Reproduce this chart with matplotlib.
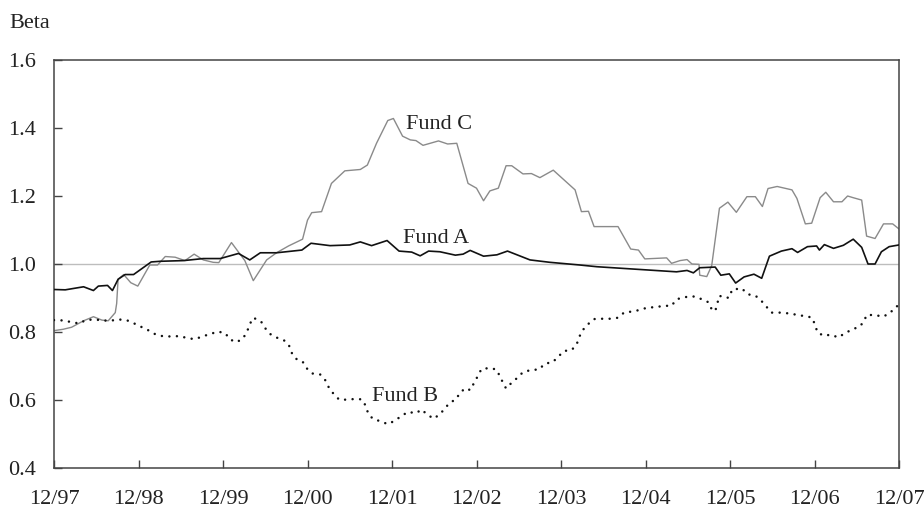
import matplotlib
matplotlib.use("Agg")
import matplotlib.pyplot as plt

plt.rcParams["font.family"] = ["Liberation Serif", "DejaVu Serif"]
plt.rcParams["font.size"] = 16

# months after 12/97, beta
tick_labels = ["12/97", "12/98", "12/99", "12/00", "12/01", "12/02",
               "12/03", "12/04", "12/05", "12/06", "12/07"]

fund_a_month = [0, 1.6, 4.2, 5.6, 6.3, 7.6, 8.3, 9.1, 10.1, 11.3, 13.8, 15.1,
                18.4, 21.2, 23.6, 26.2, 27.8, 29.3, 31.6, 35.2, 36.5, 39.2,
                42.0, 43.5, 45.1, 47.3, 49.0, 50.8, 52.0, 53.2, 54.8, 57.0,
                58.1, 59.1, 61.0, 62.9, 64.4, 67.6, 70.4, 74.7, 77.1, 88.4,
                89.9, 90.8, 91.7, 93.9, 94.7, 95.9, 96.8, 98.0, 99.4, 100.5,
                101.6, 103.3, 104.8, 105.6, 107.0, 108.3, 108.7, 109.4, 110.7,
                112.1, 113.5, 114.7, 115.6, 116.6, 117.5, 118.6, 120]
fund_a_beta = [0.925, 0.924, 0.933, 0.922, 0.935, 0.937, 0.922, 0.955, 0.969,
               0.969, 1.006, 1.008, 1.010, 1.016, 1.016, 1.031, 1.012, 1.033,
               1.033, 1.041, 1.061, 1.054, 1.056, 1.065, 1.054, 1.069, 1.038,
               1.035, 1.024, 1.038, 1.036, 1.026, 1.029, 1.040, 1.023, 1.027,
               1.038, 1.012, 1.005, 0.997, 0.992, 0.977, 0.981, 0.974, 0.989,
               0.991, 0.967, 0.971, 0.944, 0.962, 0.970, 0.958, 1.023, 1.038,
               1.045, 1.034, 1.051, 1.053, 1.041, 1.057, 1.046, 1.055, 1.073,
               1.049, 1.000, 1.000, 1.036, 1.051, 1.056]

fund_b_month = [0, 1.3, 2.5, 3.6, 4.5, 5.7, 6.9, 8.0, 9.1, 10.3, 11.4, 12.5,
                13.5, 14.5, 15.6, 16.7, 17.9, 18.9, 20.0, 21.1, 22.3, 23.3,
                24.3, 25.0, 25.9, 26.8, 27.4, 27.8, 28.3, 29.4, 30.0, 30.7,
                31.7, 32.8, 33.4, 33.8, 34.4, 35.3, 35.9, 36.7, 37.8, 38.5,
                39.0, 39.7, 40.5, 41.6, 42.7, 43.7, 44.3, 44.6, 45.3, 46.3,
                47.4, 48.4, 49.4, 50.3, 51.4, 52.2, 52.9, 53.9, 54.8, 55.5,
                56.2, 57.1, 57.7, 58.5, 59.1, 59.6, 60.2, 60.7, 61.8, 62.8,
                63.3, 63.8, 64.2, 65.0, 65.9, 66.6, 67.7, 68.9, 69.7, 70.8,
                71.6, 72.4, 73.5, 74.2, 74.6, 75.1, 75.9, 76.7, 77.9, 79.1,
                80.1, 81.0, 82.1, 83.2, 84.3, 85.5, 86.5, 87.7, 88.4, 89.4,
                90.6, 91.3, 92.2, 92.9, 93.4, 93.9, 94.2, 94.5, 95.1, 95.9,
                96.3, 97.7, 98.5, 99.6, 100.4, 101.2, 101.9, 103.1, 104.2,
                105.4, 106.5, 107.6, 108.1, 108.4, 109.3, 110.3, 111.4, 112.2,
                113.3, 114.4, 115.0, 115.4, 116.6, 117.7, 118.7, 119.5, 120]
fund_b_beta = [0.835, 0.834, 0.829, 0.825, 0.835, 0.837, 0.834, 0.833, 0.837,
               0.835, 0.825, 0.814, 0.804, 0.792, 0.787, 0.787, 0.788, 0.782,
               0.779, 0.787, 0.795, 0.801, 0.797, 0.778, 0.770, 0.780, 0.800,
               0.823, 0.842, 0.831, 0.811, 0.794, 0.783, 0.774, 0.759, 0.737,
               0.721, 0.713, 0.693, 0.678, 0.675, 0.659, 0.638, 0.618, 0.601,
               0.601, 0.603, 0.602, 0.582, 0.561, 0.544, 0.538, 0.529, 0.539,
               0.554, 0.565, 0.561, 0.572, 0.559, 0.545, 0.558, 0.575, 0.592,
               0.602, 0.623, 0.635, 0.629, 0.648, 0.671, 0.691, 0.694, 0.690,
               0.671, 0.649, 0.634, 0.651, 0.667, 0.682, 0.688, 0.690, 0.707,
               0.711, 0.727, 0.744, 0.747, 0.762, 0.786, 0.806, 0.824, 0.838,
               0.839, 0.839, 0.842, 0.858, 0.860, 0.865, 0.872, 0.873, 0.877,
               0.877, 0.896, 0.902, 0.905, 0.903, 0.894, 0.888, 0.867, 0.861,
               0.884, 0.907, 0.901, 0.901, 0.925, 0.928, 0.911, 0.907, 0.893,
               0.874, 0.857, 0.857, 0.855, 0.851, 0.847, 0.843, 0.821, 0.799,
               0.789, 0.792, 0.784, 0.795, 0.807, 0.816, 0.830, 0.850, 0.850,
               0.845, 0.855, 0.874, 0.878]

fund_c_month = [0, 1.3, 2.5, 4.2, 5.6, 6.8, 7.7, 8.7, 8.9, 9.1, 9.9, 10.9, 11.9,
                13.6, 14.7, 15.8, 17.2, 18.6, 19.9, 21.2, 22.6, 23.4, 25.2,
                27.1, 28.3, 30.2, 31.6, 33.3, 35.3, 36.0, 36.6, 38.0, 39.4,
                41.3, 43.5, 44.5, 45.8, 47.4, 48.2, 49.5, 50.6, 51.4, 52.4,
                54.6, 55.9, 57.2, 58.8, 60.0, 61.0, 61.9, 63.1, 64.2, 65.0,
                66.6, 67.8, 69.0, 70.9, 74.0, 74.9, 75.9, 76.7, 80.1, 81.9,
                83.0, 83.9, 87.0, 87.7, 88.9, 89.9, 90.6, 91.6, 91.7, 92.7,
                93.4, 94.5, 95.7, 96.9, 98.4, 99.6, 100.6, 101.4, 102.7, 104.8,
                105.5, 106.7, 107.6, 108.8, 109.6, 110.7, 111.9, 112.7, 113.5,
                114.7, 115.4, 116.6, 117.8, 119.1, 120]
fund_c_beta = [0.804, 0.808, 0.814, 0.833, 0.845, 0.835, 0.833, 0.857, 0.884,
               0.955, 0.969, 0.945, 0.935, 0.997, 0.997, 1.022, 1.020, 1.010,
               1.029, 1.012, 1.005, 1.004, 1.063, 1.010, 0.951, 1.012, 1.033,
               1.053, 1.073, 1.129, 1.151, 1.154, 1.237, 1.274, 1.278, 1.291,
               1.355, 1.422, 1.428, 1.376, 1.365, 1.363, 1.349, 1.362, 1.353,
               1.355, 1.237, 1.223, 1.186, 1.215, 1.223, 1.289, 1.289, 1.265,
               1.266, 1.254, 1.276, 1.218, 1.154, 1.155, 1.110, 1.110, 1.044,
               1.041, 1.015, 1.018, 1.002, 1.010, 1.013, 1.000, 0.999, 0.967,
               0.963, 0.995, 1.164, 1.182, 1.152, 1.198, 1.198, 1.169, 1.222,
               1.228, 1.218, 1.193, 1.118, 1.120, 1.195, 1.211, 1.183, 1.183,
               1.200, 1.195, 1.188, 1.082, 1.075, 1.118, 1.118, 1.103]

fig = plt.figure(figsize=(9.24, 5.08), dpi=100)
ax = fig.add_axes([54 / 924, 40 / 508, 845 / 924, 408 / 508])

ax.axhline(1.0, color="#bdbdbd", lw=1.0, zorder=1)
ax.plot(fund_c_month, fund_c_beta, color="#8a8a8a", lw=1.0, zorder=2)
ax.plot(fund_a_month, fund_a_beta, color="#111111", lw=1.2, zorder=3)
ax.plot(fund_b_month, fund_b_beta, color="#111111", lw=1.8,
        dashes=(0.01, 3.0), dash_capstyle="round", zorder=3)

ax.text(50.0, 1.409, "Fund C", va="center", ha="left", color="#222222")
ax.text(49.5, 1.076, "Fund A", va="center", ha="left", color="#222222")
ax.text(45.2, 0.609, "Fund B", va="center", ha="left", color="#222222")

ax.set_xlim(0, 120)
ax.set_ylim(0.4, 1.6)
ax.set_xticks(range(0, 121, 12))
ax.set_xticklabels(tick_labels)
ax.set_yticks([0.4, 0.6, 0.8, 1.0, 1.2, 1.4, 1.6])
ax.set_yticklabels(["0.4", "0.6", "0.8", "1.0", "1.2", "1.4", "1.6"])

for s in ax.spines.values():
    s.set_color("#444444")
    s.set_linewidth(1.1)
ax.tick_params(direction="in", length=6, width=1.0, color="#444444",
               labelcolor="#222222")
ax.tick_params(axis="x", pad=16)
ax.tick_params(axis="y", pad=13)

fig.text(9 / 924, 1 - 23 / 508, "Beta", va="center", ha="left",
         color="#222222", fontsize=16)

fig.savefig("out.png", dpi=100)
